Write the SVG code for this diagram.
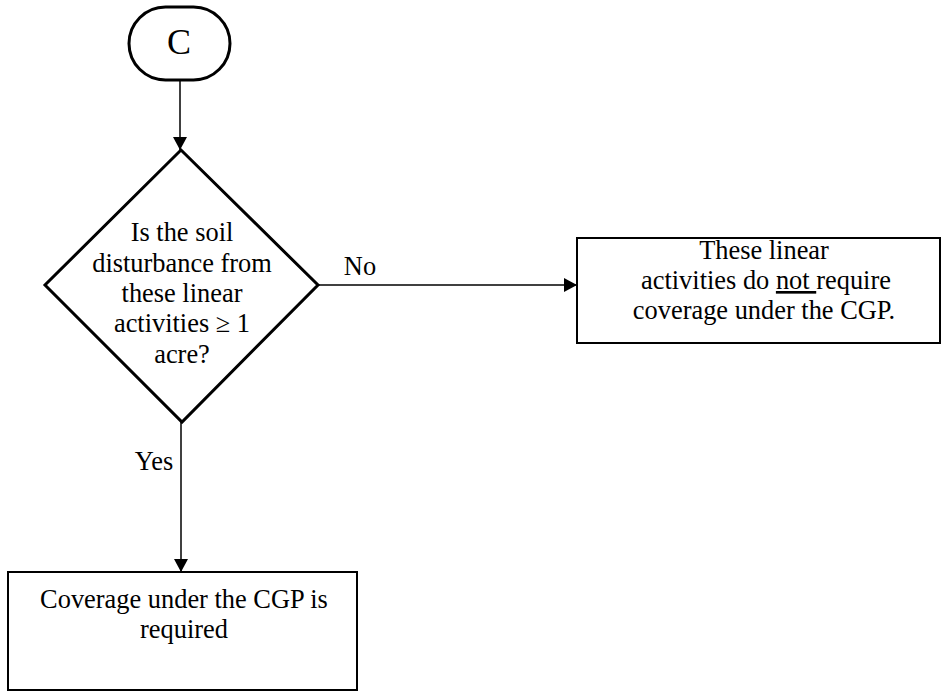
<svg xmlns="http://www.w3.org/2000/svg" width="942" height="692" viewBox="0 0 942 692">
<style>
text{font-family:'Liberation Serif','Times New Roman',serif;fill:#000;text-anchor:middle}
.t{font-size:26.4px}
.c{font-size:36px}
.thick{fill:#fff;stroke:#000;stroke-width:3}
.box{fill:#fff;stroke:#000;stroke-width:2}
.ln{fill:none;stroke:#000;stroke-width:1.5}
</style>
<defs>
<marker id="ah" markerWidth="15" markerHeight="14" refX="13" refY="7" orient="auto" markerUnits="userSpaceOnUse">
<path d="M0,0 L13,7 L0,14 Z" fill="#000"/>
</marker>
</defs>
<rect width="942" height="692" fill="#fff"/>
<g id="connectors">
<line class="ln" x1="180" y1="80" x2="180" y2="150" marker-end="url(#ah)"/>
<line class="ln" x1="318" y1="285" x2="577" y2="285" marker-end="url(#ah)"/>
<line class="ln" x1="181" y1="422" x2="181" y2="572" marker-end="url(#ah)"/>
<text class="t" x="360" y="275">No</text>
<text class="t" x="154" y="470">Yes</text>
</g>
<g id="start">
<rect class="thick" x="129" y="7" width="101" height="73" rx="36.5" ry="36.5"/>
<text class="c" x="179" y="54">C</text>
</g>
<g id="decision">
<polygon class="thick" points="181,150 318,285 182,422 45,285"/>
<text class="t" x="182" y="241">Is the soil</text>
<text class="t" x="182" y="272">disturbance from</text>
<text class="t" x="182" y="302">these linear</text>
<text class="t" x="182" y="332">activities ≥ 1</text>
<text class="t" x="182" y="363">acre?</text>
</g>
<g id="no-box">
<rect class="box" x="577" y="238" width="363" height="105"/>
<text class="t" x="764" y="259">These linear</text>
<text class="t" x="766" y="289">activities do <tspan text-decoration="underline">not </tspan>require</text>
<text class="t" x="764" y="319">coverage under the CGP.</text>
</g>
<g id="yes-box">
<rect class="box" x="8" y="572" width="349" height="118"/>
<text class="t" x="184" y="608">Coverage under the CGP is</text>
<text class="t" x="184" y="638">required</text>
</g>
</svg>
